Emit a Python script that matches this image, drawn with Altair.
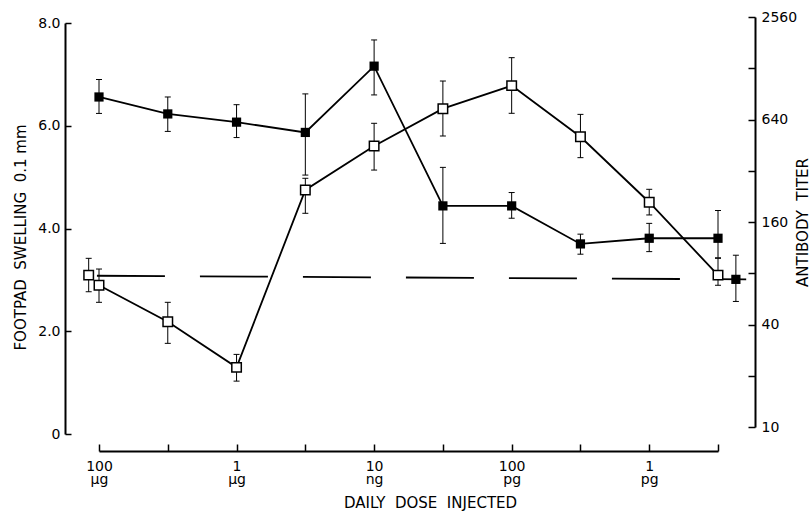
import json
import altair as alt
import pandas as pd

# ---------------- data ----------------
dose_pos = [0, 1, 2, 3, 4, 5, 6, 7, 8, 9]
dose_tick_labels = ["100|µg", "", "1|µg", "", "10|ng", "", "100|pg", "", "1|pg", ""]

# footpad swelling (0.1 mm), filled squares, left axis
swelling = [6.56, 6.23, 6.07, 5.87, 7.16, 4.44, 4.44, 3.70, 3.81, 3.81]
swelling_hi = [6.90, 6.56, 6.41, 6.62, 7.67, 5.19, 4.70, 3.89, 4.10, 4.35]
swelling_lo = [6.24, 5.89, 5.77, 5.04, 6.60, 3.71, 4.20, 3.50, 3.55, 3.43]

# antibody titer, open squares, right axis (log2)
titer = [68, 41.5, 22.4, 247, 447, 741, 1012, 507, 209, 78]
titer_hi = [84.7, 54, 26.7, 289, 608, 1077, 1477, 686, 249, 97.9]
titer_lo = [54, 31, 18.6, 180, 323, 512, 696, 382, 176, 68]

# controls
swelling_ctrl_pos = [9.26]
swelling_ctrl = [3.01]
swelling_ctrl_hi = [3.48]
swelling_ctrl_lo = [2.58]

titer_ctrl_pos = [-0.15]
titer_ctrl = [78]
titer_ctrl_hi = [97.9]
titer_ctrl_lo = [62.3]

control_line_pos = [-0.03, 9.41]
control_line = [3.08, 3.01]

left_ticks = [0, 2, 4, 6, 8]
right_label_ticks = [10, 40, 160, 640, 2560]
right_ticks = [10, 20, 40, 80, 160, 320, 640, 1280, 2560]

FONT = "DejaVu Sans"

# ---------------- tables ----------------
sw_df = pd.DataFrame({
    "pos": dose_pos + swelling_ctrl_pos,
    "v": swelling + swelling_ctrl,
    "hi": swelling_hi + swelling_ctrl_hi,
    "lo": swelling_lo + swelling_ctrl_lo,
    "grp": ["dose"] * len(dose_pos) + ["control"],
})
ti_df = pd.DataFrame({
    "pos": dose_pos + titer_ctrl_pos,
    "v": titer + titer_ctrl,
    "hi": titer_hi + titer_ctrl_hi,
    "lo": titer_lo + titer_ctrl_lo,
    "grp": ["dose"] * len(dose_pos) + ["control"],
})
dash_df = pd.DataFrame({"pos": control_line_pos, "v": control_line})

# ---------------- scales ----------------
W, H = 690, 417
X = alt.Scale(domain=[0, 9], range=[34, 653], nice=False, zero=False)
YL = alt.Scale(domain=[0, 8], range=[417, 6], nice=False, zero=False)
YR = alt.Scale(type="log", base=2, domain=[10, 2560], range=[410, 0], nice=False)

# ---------------- axes ----------------
label_js = json.dumps(dose_tick_labels, ensure_ascii=False)
x_label_axis = alt.Axis(
    orient="bottom", offset=17, domain=False, ticks=False, tickSize=0, grid=False,
    values=[0, 2, 4, 6, 8],
    labelExpr="split(" + label_js + "[datum.value], '|')",
    labelPadding=19, labelBaseline="alphabetic", labelLineHeight=13,
    labelFlush=False, labelOverlap=False,
    title="DAILY\u00a0 DOSE\u00a0 INJECTED", titleX=365, titleY=56,
    titleBaseline="alphabetic", titleAlign="center", titleAngle=0,
)
x_tick_axis = alt.Axis(
    orient="top", offset=-(H + 17), labels=False, domain=True, ticks=True,
    tickSize=7, tickWidth=1.5, domainWidth=2, grid=False,
    values=dose_pos, title=None,
)
left_label_axis = alt.Axis(
    orient="left", values=left_ticks, ticks=False, tickSize=0, domain=True,
    domainWidth=2, grid=False, labelPadding=5, labelFlush=False, labelOverlap=False,
    labelExpr="datum.value == 0 ? '0' : format(datum.value, '.1f')",
    title="FOOTPAD\u00a0 SWELLING\u00a0 0.1 mm", titleAngle=270, titleX=-40, titleY=220,
    titleBaseline="alphabetic", titleAlign="center",
)
left_tick_axis = alt.Axis(
    orient="right", offset=-W, values=left_ticks, labels=False, domain=False,
    ticks=True, tickSize=6, tickWidth=1.5, grid=False, title=None,
)
right_label_axis = alt.Axis(
    orient="right", values=right_label_ticks, format="d", ticks=False, tickSize=0,
    domain=True, domainWidth=2, grid=False, labelPadding=6, labelFlush=False,
    labelOverlap=False,
    title="ANTIBODY\u00a0 TITER", titleAngle=270, titleX=52, titleY=205,
    titleBaseline="alphabetic", titleAlign="center",
)
right_tick_axis = alt.Axis(
    orient="left", offset=-W, values=right_ticks, labels=False, domain=False,
    ticks=True, tickSize=7, tickWidth=1.5, grid=False, title=None,
)

# ---------------- layers ----------------
dash = alt.Chart(dash_df).mark_line(color="black", strokeWidth=1.8, strokeDash=[68, 35]).encode(
    x=alt.X("pos:Q", scale=X, axis=x_label_axis),
    y=alt.Y("v:Q", scale=YL, axis=left_label_axis),
)

sw_rule = alt.Chart(sw_df).mark_rule(color="black", strokeWidth=1).encode(
    x=alt.X("pos:Q", scale=X, axis=None),
    y=alt.Y("lo:Q", scale=YL, axis=left_tick_axis),
    y2="hi:Q",
)
sw_cap_hi = alt.Chart(sw_df).mark_tick(orient="horizontal", size=6, thickness=1, color="black", opacity=1).encode(
    x=alt.X("pos:Q", scale=X, axis=None),
    y=alt.Y("hi:Q", scale=YL, axis=None),
)
sw_cap_lo = alt.Chart(sw_df).mark_tick(orient="horizontal", size=6, thickness=1, color="black", opacity=1).encode(
    x=alt.X("pos:Q", scale=X, axis=None),
    y=alt.Y("lo:Q", scale=YL, axis=None),
)
ti_rule = alt.Chart(ti_df).mark_rule(color="black", strokeWidth=1).encode(
    x=alt.X("pos:Q", scale=X, axis=x_tick_axis),
    y=alt.Y("lo:Q", scale=YR, axis=right_label_axis),
    y2="hi:Q",
)
ti_cap_hi = alt.Chart(ti_df).mark_tick(orient="horizontal", size=6, thickness=1, color="black", opacity=1).encode(
    x=alt.X("pos:Q", scale=X, axis=None),
    y=alt.Y("hi:Q", scale=YR, axis=right_tick_axis),
)
ti_cap_lo = alt.Chart(ti_df).mark_tick(orient="horizontal", size=6, thickness=1, color="black", opacity=1).encode(
    x=alt.X("pos:Q", scale=X, axis=None),
    y=alt.Y("lo:Q", scale=YR, axis=None),
)
sw_line = alt.Chart(sw_df).transform_filter("datum.grp == 'dose'").mark_line(color="black", strokeWidth=1.8).encode(
    x=alt.X("pos:Q", scale=X, axis=None),
    y=alt.Y("v:Q", scale=YL, axis=None),
)
ti_line = alt.Chart(ti_df).transform_filter("datum.grp == 'dose'").mark_line(color="black", strokeWidth=1.8).encode(
    x=alt.X("pos:Q", scale=X, axis=None),
    y=alt.Y("v:Q", scale=YR, axis=None),
)
sw_pts = alt.Chart(sw_df).mark_square(size=85, color="black", opacity=1).encode(
    x=alt.X("pos:Q", scale=X, axis=None),
    y=alt.Y("v:Q", scale=YL, axis=None),
)
ti_pts = alt.Chart(ti_df).mark_square(size=90, fill="white", stroke="black", strokeWidth=1.5, opacity=1, fillOpacity=1).encode(
    x=alt.X("pos:Q", scale=X, axis=None),
    y=alt.Y("v:Q", scale=YR, axis=None),
)

chart = (
    alt.layer(dash, sw_rule, sw_cap_hi, sw_cap_lo, ti_rule, ti_cap_hi, ti_cap_lo,
              sw_line, ti_line, sw_pts, ti_pts)
    .resolve_scale(y="independent")
    .resolve_axis(x="independent", y="independent")
    .properties(
        width=W, height=H,
        autosize=alt.AutoSizeParams(type="none"),
        padding={"left": 65, "top": 17, "right": 56, "bottom": 78},
        background="white",
    )
    .configure_view(strokeOpacity=0)
    .configure_axis(
        labelFont=FONT, labelFontSize=14, labelColor="black",
        titleFont=FONT, titleFontSize=15, titleFontWeight="normal", titleColor="black",
        domainColor="black", tickColor="black",
    )
)

chart.save("out.html", embed_options={"renderer": "svg", "actions": False})
